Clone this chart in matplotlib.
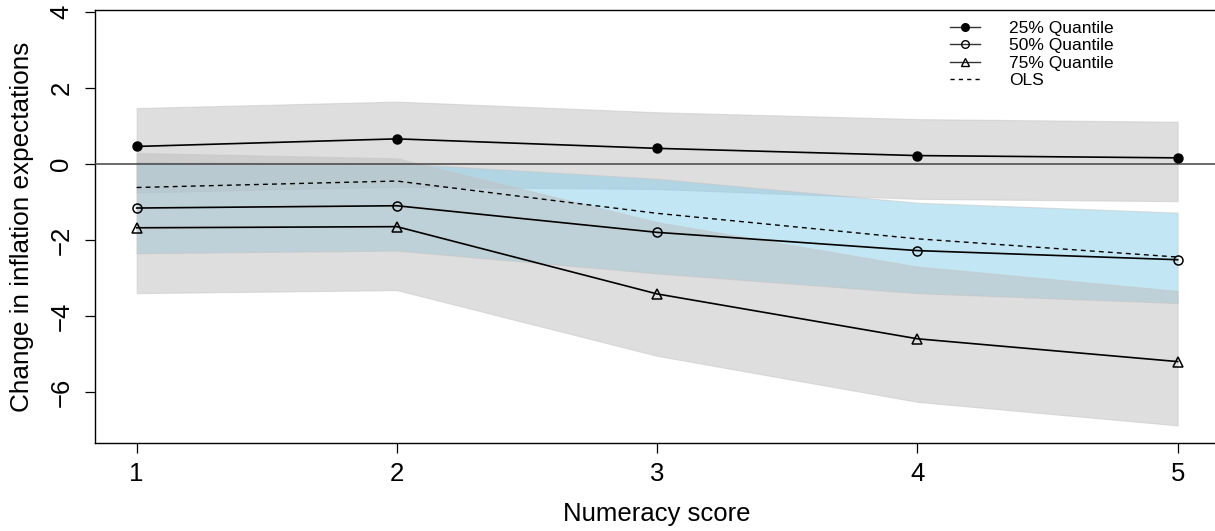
import matplotlib

matplotlib.use("Agg")
import matplotlib.pyplot as plt
from matplotlib.lines import Line2D

plt.rcParams["font.family"] = ["Liberation Sans", "DejaVu Sans"]

# numeracy score
score = [1, 2, 3, 4, 5]

# quantile regression estimates + OLS
q25 = [0.46, 0.66, 0.41, 0.22, 0.16]
q50 = [-1.16, -1.10, -1.80, -2.28, -2.52]
q75 = [-1.68, -1.65, -3.42, -4.60, -5.20]
ols = [-0.62, -0.45, -1.30, -1.97, -2.45]

# confidence bands
q25_lo = [-0.75, -0.60, -0.66, -0.92, -0.98]
q25_hi = [1.47, 1.64, 1.36, 1.18, 1.11]
q50_lo = [-2.35, -2.28, -2.88, -3.40, -3.66]
q50_hi = [0.05, 0.02, -0.39, -1.02, -1.28]
q75_lo = [-3.40, -3.32, -5.05, -6.26, -6.88]
q75_hi = [0.29, 0.15, -1.53, -2.70, -3.34]

W, H = 1215, 531
fig = plt.figure(figsize=(W / 100, H / 100), dpi=100, facecolor="white")
# R-style plot region; right edge of the box falls just outside the picture
ax = fig.add_axes([95 / W, 88 / H, 1124.3 / W, 433 / H])

gray = "#BEBEBE"
edge = "#C4C4C4"
ax.fill_between(score, q25_lo, q25_hi, color=gray, alpha=0.5, lw=0.8, edgecolor=edge, zorder=1)
ax.fill_between(score, q50_lo, q50_hi, color="#87CEEB", alpha=0.5, lw=0.8, edgecolor=edge, zorder=2)
ax.fill_between(score, q75_lo, q75_hi, color=gray, alpha=0.5, lw=0.8, edgecolor=edge, zorder=3)

ax.axhline(0, color="#444444", lw=1.1, zorder=4)

ms = 6.5
ax.plot(score, q25, color="black", lw=1.2, marker="o", ms=ms, mfc="black", mec="black", zorder=5)
ax.plot(score, q50, color="black", lw=1.2, marker="o", ms=ms, mfc="none", mec="black", mew=1.1, zorder=5)
ax.plot(score, q75, color="black", lw=1.2, marker="^", ms=ms + 1, mfc="none", mec="black", mew=1.1, zorder=5)
ax.plot(score, ols, color="black", lw=1.0, ls=(0, (3.5, 3)), zorder=5)

ax.set_xlim(0.84, 5.16)
ax.set_ylim(-7.342, 4.05)
ax.set_xticks(score)
ax.set_yticks([-6, -4, -2, 0, 2, 4])
ax.set_yticklabels(["\u22126", "\u22124", "\u22122", "0", "2", "4"])
ax.tick_params(axis="both", direction="out", length=7.5, width=0.9, labelsize=18.5)
ax.tick_params(axis="x", pad=6)
ax.tick_params(axis="y", pad=8)
plt.setp(ax.get_yticklabels(), rotation=90, va="center")
for s in ax.spines.values():
    s.set_linewidth(1.0)

ax.set_xlabel("Numeracy score", fontsize=18.5, labelpad=12)
ax.set_ylabel("Change in inflation expectations", fontsize=18.8, labelpad=11)

handles = [
    Line2D([], [], color="#333333", lw=1, marker="o", ms=5.5, mfc="black", mec="black"),
    Line2D([], [], color="#333333", lw=1, marker="o", ms=5.5, mfc="none", mec="black"),
    Line2D([], [], color="#333333", lw=1, marker="^", ms=6, mfc="none", mec="black"),
    Line2D([], [], color="black", lw=1, ls=(0, (3, 3))),
]
labels = ["25% Quantile", "50% Quantile", "75% Quantile", "OLS"]
ax.legend(handles, labels, loc="upper left", bbox_to_anchor=((950 - 95) / 1124.3, 1 - 11 / 433),
          frameon=False, fontsize=12.5, handlelength=1.73, handletextpad=1.67,
          labelspacing=0.12, borderpad=0, borderaxespad=0)

fig.savefig("out.png", dpi=100)
